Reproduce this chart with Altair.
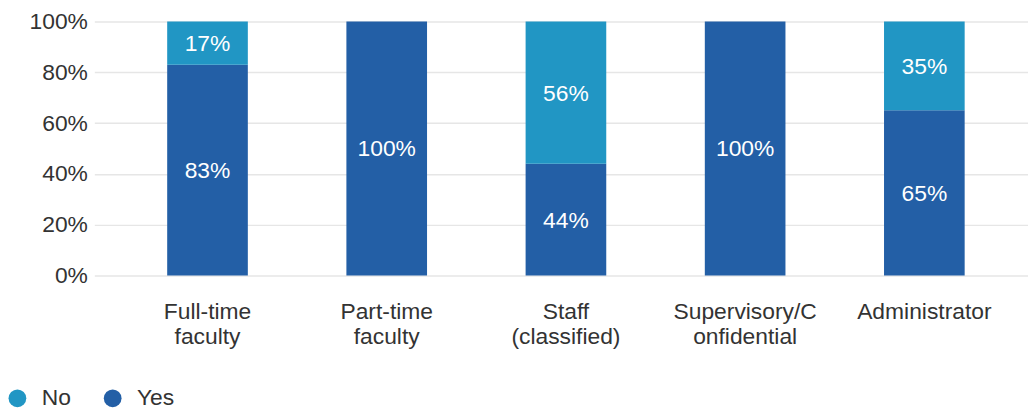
import json
import altair as alt
import pandas as pd

categories = ["Full-time faculty", "Part-time faculty", "Staff (classified)",
              "Supervisory/Confidential", "Administrator"]
axis_labels = [["Full-time", "faculty"], ["Part-time", "faculty"],
               ["Staff", "(classified)"], ["Supervisory/C", "onfidential"],
               ["Administrator"]]
yes_values = [83, 100, 44, 100, 65]
no_values = [17, 0, 56, 0, 35]
series = ["No", "Yes"]
colors = ["#2196C4", "#235FA6"]

rows = []
for c, y, n in zip(categories, yes_values, no_values):
    rows.append({"category": c, "answer": "Yes", "value": y, "order": 0})
    rows.append({"category": c, "answer": "No", "value": n, "order": 1})
df = pd.DataFrame(rows)

label_map = json.dumps(dict(zip(categories, axis_labels)))

FONT = "Liberation Sans"
FS = 23

base = alt.Chart(df).transform_stack(
    stack="value", as_=["y0", "y1"], groupby=["category"],
    sort=[alt.SortField("order", order="ascending")]
).transform_calculate(
    mid="(datum.y0 + datum.y1) / 2",
    lbl="format(datum.value / 100, '.0%')"
)

x_enc = alt.X(
    "category:N", sort=categories, title=None,
    scale=alt.Scale(paddingInner=0.55, paddingOuter=0.38, align=0.535),
    axis=alt.Axis(labelExpr=f"{label_map}[datum.label]", labelAngle=0,
                  domain=False, ticks=False, labelPadding=25,
                  labelBaseline="top", labelLineHeight=26,
                  labelFontSize=FS, labelColor="#333333", labelFont=FONT,
                  grid=False)
)

bars = base.mark_bar().encode(
    x=x_enc,
    y=alt.Y("y0:Q", title=None,
            scale=alt.Scale(domain=[0, 100], nice=False),
            axis=alt.Axis(values=[0, 20, 40, 60, 80, 100],
                          labelExpr="datum.value + '%'",
                          domain=False, ticks=False, labelPadding=7,
                          labelFontSize=FS, labelColor="#333333",
                          labelFont=FONT, gridColor="#e6e6e6",
                          gridWidth=1.5)),
    y2="y1:Q",
    color=alt.Color("answer:N",
                    scale=alt.Scale(domain=series, range=colors),
                    legend=alt.Legend(title=None, orient="none",
                                      direction="horizontal",
                                      legendX=-89, legendY=368,
                                      symbolType="circle", symbolSize=320,
                                      symbolStrokeWidth=0,
                                      labelFontSize=FS, labelFont=FONT,
                                      labelColor="#333333",
                                      labelOffset=13, columnPadding=30)),
)

texts = base.transform_filter("datum.value > 0").mark_text(
    color="white", fontSize=FS, font=FONT, baseline="middle", align="center",
    dy=1
).encode(
    x=alt.X("category:N", sort=categories),
    y=alt.Y("mid:Q"),
    text="lbl:N",
)

chart = alt.layer(bars, texts).properties(
    width=941, height=256,
    autosize=alt.AutoSizeParams(type="none"),
    padding={"left": 87, "top": 12, "right": 0, "bottom": 134},
).configure_view(stroke=None).configure_axis(labelFont=FONT)

chart.save("out.html", embed_options={"renderer": "svg", "actions": False})
